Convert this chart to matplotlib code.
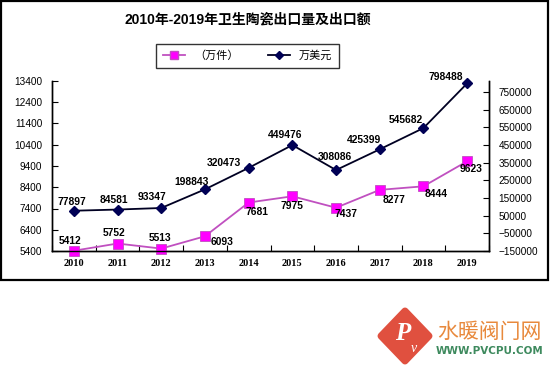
import matplotlib
matplotlib.use("Agg")
import matplotlib.pyplot as plt
from matplotlib.patches import Rectangle, Polygon
from matplotlib.lines import Line2D
import numpy as np

plt.rcParams['font.family'] = ['Liberation Sans', 'Noto Sans CJK SC', 'DejaVu Sans']

years = ['2010', '2011', '2012', '2013', '2014', '2015', '2016', '2017', '2018', '2019']
qty = [5412, 5752, 5513, 6093, 7681, 7975, 7437, 8277, 8444, 9623]          # 万件
amount = [77897, 84581, 93347, 198843, 320473, 449476, 308086, 425399, 545682, 798488]  # 万美元
left_ticks = [5400, 6400, 7400, 8400, 9400, 10400, 11400, 12400, 13400]
right_ticks = [-150000, -50000, 50000, 150000, 250000, 350000, 450000, 550000, 650000, 750000]

title = '2010年-2019年卫生陶瓷出口量及出口额'
label_qty = '（万件）'
label_amt = '万美元'

W, H = 550, 366
fig = plt.figure(figsize=(5.5, 3.66), dpi=100)

# outer frame
fig.patches.append(Rectangle((1/W, (H-280)/H), 547/W, 279/H, transform=fig.transFigure,
                             fill=False, edgecolor='black', linewidth=1.6))

ax = fig.add_axes([52/W, (H-251)/H, 437/W, 170/H])
ax2 = ax.twinx()

x = np.arange(len(years))
c_qty_line = '#C050C0'
c_qty_mark = '#FF00FF'
c_amt_line = '#000022'
c_amt_mark = '#000055'

ax.plot(x, qty, color=c_qty_line, lw=1.3, marker='s', ms=7, mfc=c_qty_mark, mec=c_qty_line, mew=0.6, zorder=3, clip_on=False)
ax2.plot(x, amount, color=c_amt_line, lw=1.3, marker='D', ms=5, mfc=c_amt_mark, mec=c_amt_mark, zorder=3, clip_on=False)

ax.set_xlim(-0.5, 9.5)
ax.set_ylim(5400, 13400)
ax2.set_ylim(-150000, 812000)
ax.set_yticks(left_ticks)
ax2.set_yticks(right_ticks)
ax.set_xticks(x)
ax.set_xticklabels(years, fontfamily='Liberation Serif', fontweight='bold', fontsize=7.5)
ax.set_xticks(np.arange(-0.5, 10, 1), minor=True)
ax.tick_params(axis='x', which='major', length=0, pad=6)
ax.tick_params(axis='x', which='minor', direction='in', length=4, width=0.8)
ax.tick_params(axis='y', direction='in', length=4, width=0.8, labelsize=7.2, pad=7)
ax2.tick_params(axis='y', direction='in', length=4, width=0.8, labelsize=7.2, pad=7)

for a in (ax, ax2):
    a.spines['top'].set_visible(False)
    for s in ('left', 'right', 'bottom'):
        a.spines[s].set_linewidth(1.0)

# data labels
qty_off = [(-4, 10), (-4, 11), (-1, 11), (17, -6), (8, -9), (0, -10), (10, -6), (14, -10), (13, -8), (4, -8)]
amt_off = [(-2, 9), (-4, 10), (-9, 11), (-13, 7), (-25, 5), (-7, 10), (-1, 13), (-16, 9), (-18, 8), (-21, 6)]
for i in range(len(years)):
    ax.annotate(str(qty[i]), (x[i], qty[i]), xytext=qty_off[i], textcoords='offset pixels',
                ha='center', va='center', fontsize=7.4, fontweight='bold', annotation_clip=False, zorder=5)
    ax2.annotate(str(amount[i]), (x[i], amount[i]), xytext=amt_off[i], textcoords='offset pixels',
                 ha='center', va='center', fontsize=7.4, fontweight='bold', annotation_clip=False, zorder=5)

# title
fig.text(248/W, 1-20/H, title, ha='center', va='center', fontsize=10, fontweight='bold',
         family=['Liberation Sans', 'Noto Sans CJK SC'])

# legend
handles = [Line2D([], [], color=c_qty_line, lw=1.3, marker='s', ms=6, mfc=c_qty_mark, mec=c_qty_line),
           Line2D([], [], color=c_amt_line, lw=1.3, marker='D', ms=4, mfc=c_amt_mark, mec=c_amt_mark)]
leg = fig.legend(handles, [label_qty, label_amt], loc='center', bbox_to_anchor=(247.5/W, 1-56/H),
                 ncol=2, frameon=True, fancybox=False, edgecolor='black',
                 handlelength=2.0, columnspacing=2.6, borderpad=0.6,
                 prop={'family': ['Noto Sans CJK SC', 'DejaVu Sans'], 'size': 8})
leg.get_frame().set_linewidth(1.0)

# watermark logo
lx, ly = 405/W, 1-336/H
dw, dh = 24/W, 25/H
diamond = Polygon([(lx, ly+dh), (lx+dw, ly), (lx, ly-dh), (lx-dw, ly)], closed=True,
                  transform=fig.transFigure, facecolor='#E0503F', edgecolor='#E0503F',
                  linewidth=5, joinstyle='round')
fig.patches.append(diamond)
fig.text(lx-2/W, ly+3/H, 'P', color='white', fontsize=18, fontstyle='italic', fontweight='bold',
         family='Liberation Serif', ha='center', va='center')
fig.text(lx+9/W, ly-13/H, 'v', color='white', fontsize=10, fontstyle='italic',
         family='Liberation Serif', ha='center', va='center')
fig.text(489/W, 1-332/H, '水暖阀门网', color='#E8893C', fontsize=15, ha='center', va='center',
         family=['Noto Sans CJK SC'])
fig.text(490/W, 1-351/H, 'WWW.PVCPU.COM', color='#3E8A5E', fontsize=7.5, ha='center', va='center',
         family='DejaVu Sans', fontweight='bold')

fig.savefig('out.png', dpi=100, facecolor='white')
